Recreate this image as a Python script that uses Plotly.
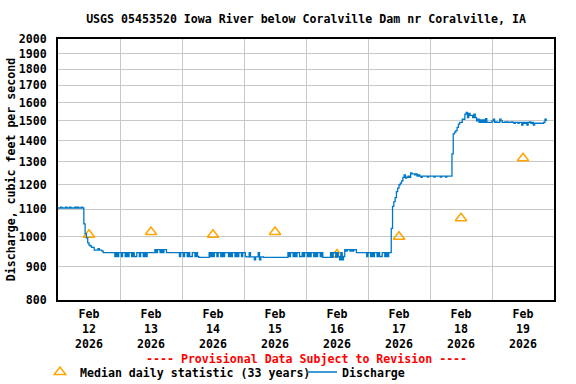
import math
import pandas as pd
import plotly.graph_objects as go

# ---------------- data ----------------
series_start = "2026-02-12 00:00"   # 30-minute discharge values (cfs)

feb12 = [1105, 1105, 1108, 1105, 1105, 1105, 1108, 1105, 1105, 1108,
         1105, 1105, 1105, 1108, 1105, 1108, 1105, 1105, 1108, 1105,
         1045, 1010, 995, 978, 970, 967, 962, 962, 953, 953,
         953, 958, 953, 953, 950, 945, 945, 945, 945, 945,
         945, 945, 945, 945, 932, 945, 932, 945]
feb13 = [945, 932, 945, 945, 932, 945, 932, 945, 945, 932,
         945, 932, 932, 945, 945, 932, 945, 945, 932, 945,
         932, 945, 945, 945, 945, 945, 945, 955, 945, 955,
         955, 945, 955, 945, 955, 955, 945, 945, 945, 945,
         945, 945, 945, 945, 945, 945, 932, 945]
feb14 = [945, 932, 945, 945, 932, 945, 932, 932, 945, 945,
         932, 945, 932, 929, 929, 929, 929, 929, 929, 929,
         929, 945, 932, 945, 932, 945, 945, 932, 945, 945,
         932, 945, 932, 945, 945, 945, 932, 945, 932, 945,
         945, 932, 945, 932, 945, 945, 932, 945]
feb15 = [945, 932, 931, 931, 945, 931, 931, 931, 921, 931,
         931, 945, 921, 931, 931, 929, 929, 929, 929, 929,
         929, 929, 929, 929, 929, 929, 929, 929, 929, 929,
         929, 929, 929, 929, 945, 932, 945, 945, 932, 945,
         932, 945, 945, 932, 932, 945, 932, 945]
feb16 = [945, 932, 945, 932, 945, 945, 932, 945, 932, 945,
         945, 932, 945, 929, 929, 929, 929, 929, 929, 945,
         929, 945, 945, 929, 945, 932, 921, 945, 921, 932,
         955, 950, 955, 955, 950, 955, 950, 955, 955, 945,
         945, 945, 945, 945, 945, 945, 945, 932]
feb17 = [945, 945, 932, 945, 932, 945, 945, 932, 945, 932,
         932, 945, 945, 932, 945, 932, 945, 945, 1029, 1111,
         1130, 1146, 1170, 1185, 1199, 1206, 1215, 1230, 1241, 1227,
         1231, 1236, 1231, 1250, 1246, 1246, 1241, 1246, 1236, 1241,
         1236, 1231, 1236, 1236, 1236, 1236, 1232, 1236]
feb18 = [1236, 1236, 1236, 1232, 1236, 1236, 1236, 1236, 1232, 1236,
         1236, 1236, 1232, 1236, 1236, 1236, 1236, 1336, 1433, 1442,
         1450, 1467, 1483, 1492, 1492, 1509, 1509, 1536, 1545, 1518,
         1540, 1530, 1530, 1518, 1536, 1518, 1500, 1509, 1492, 1505,
         1492, 1505, 1492, 1512, 1492, 1492, 1492, 1492]
feb19 = [1500, 1509, 1492, 1495, 1492, 1492, 1509, 1500, 1492, 1492,
         1495, 1492, 1495, 1492, 1492, 1495, 1492, 1488, 1492, 1492,
         1488, 1492, 1492, 1478, 1492, 1488, 1492, 1478, 1492, 1495,
         1488, 1492, 1478, 1488, 1488, 1488, 1488, 1488, 1488, 1488,
         1492, 1509, 1500]

median_dates = ["2026-02-12 12:00", "2026-02-13 12:00", "2026-02-14 12:00",
                "2026-02-15 12:00", "2026-02-16 12:00", "2026-02-17 12:00",
                "2026-02-18 12:00", "2026-02-19 12:00"]
median_values = [1006, 1016, 1006, 1016, 939, 999, 1066, 1316]

tick_dates = median_dates
tick_labels = ["Feb<br>12<br>2026", "Feb<br>13<br>2026", "Feb<br>14<br>2026",
               "Feb<br>15<br>2026", "Feb<br>16<br>2026", "Feb<br>17<br>2026",
               "Feb<br>18<br>2026", "Feb<br>19<br>2026"]
day_boundaries = ["2026-02-13", "2026-02-14", "2026-02-15", "2026-02-16",
                  "2026-02-17", "2026-02-18", "2026-02-19"]
x_range = ["2026-02-12 00:00", "2026-02-20 00:00"]
y_ticks = [800, 900, 1000, 1100, 1200, 1300, 1400, 1500, 1600, 1700, 1800, 1900, 2000]
y_range = [800, 2000]

discharge = feb12 + feb13 + feb14 + feb15 + feb16 + feb17 + feb18 + feb19
times = pd.date_range(series_start, periods=len(discharge), freq="30min")

# ---------------- figure ----------------
FONT = "DejaVu Sans Mono"
FS = 11.6
GRID = "#c8c8c8"
BOLD = dict(family=FONT, size=FS, color="black", weight="bold")

fig = go.Figure()
fig.add_trace(go.Scatter(
    x=median_dates, y=median_values, mode="markers",
    name="Median daily statistic (33 years)",
    marker=dict(symbol="triangle-up-open", size=10, color="#FFA500",
                line=dict(width=1.5, color="#FFA500")),
    legend="legend",
))
fig.add_trace(go.Scatter(
    x=times, y=discharge, mode="lines", name="Discharge",
    line=dict(color="#0078C8", width=1.3, shape="hv"),
    legend="legend2",
))

fig.update_layout(
    width=576, height=384,
    margin=dict(l=58, r=22, t=39, b=84, autoexpand=False),
    paper_bgcolor="white", plot_bgcolor="white",
    font=BOLD,
    title=dict(text="USGS 05453520 Iowa River below Coralville Dam nr Coralville, IA",
               x=0.5, xref="paper", xanchor="center",
               y=1 - 19 / 384, yref="container", yanchor="middle", font=BOLD),
    showlegend=True,
    legend=dict(orientation="h", xref="container", yref="container",
                x=40 / 576, y=1 - 372 / 384, xanchor="left", yanchor="middle",
                bgcolor="rgba(0,0,0,0)", itemwidth=30, font=BOLD),
    legend2=dict(orientation="h", xref="container", yref="container",
                 x=302 / 576, y=1 - 372 / 384, xanchor="left", yanchor="middle",
                 bgcolor="rgba(0,0,0,0)", itemwidth=30, font=BOLD),
    xaxis=dict(type="date", range=x_range, tickmode="array",
               tickvals=tick_dates, ticktext=tick_labels,
               showgrid=False, zeroline=False, ticks="", automargin=False,
               showline=True, linecolor="black", linewidth=2, mirror=True,
               ticklabelstandoff=2,
               minor=dict(tickmode="array", tickvals=day_boundaries,
                          showgrid=True, gridcolor=GRID, gridwidth=1, ticks="")),
    yaxis=dict(type="log", range=[math.log10(y_range[0]), math.log10(y_range[1])],
               tickmode="array", tickvals=y_ticks,
               ticktext=[str(v) for v in y_ticks],
               showgrid=True, gridcolor=GRID, gridwidth=1, zeroline=False,
               ticks="", ticklabelstandoff=7, automargin=False,
               showline=True, linecolor="black", linewidth=2, mirror=True,
               title=dict(text="Discharge, cubic feet per second", standoff=1, font=BOLD)),
    annotations=[dict(text="---- Provisional Data Subject to Revision ----",
                      xref="paper", yref="paper", x=0.5, y=(300 - 359) / 261,
                      xanchor="center", yanchor="middle", showarrow=False,
                      font=dict(family=FONT, size=FS, color="#FF0000", weight="bold"))],
)

# remove the browser's default 8px body margin so the figure fills the window
fig.write_html("out.html", config={"displayModeBar": False},
               post_script="document.body.style.margin='0px';")
